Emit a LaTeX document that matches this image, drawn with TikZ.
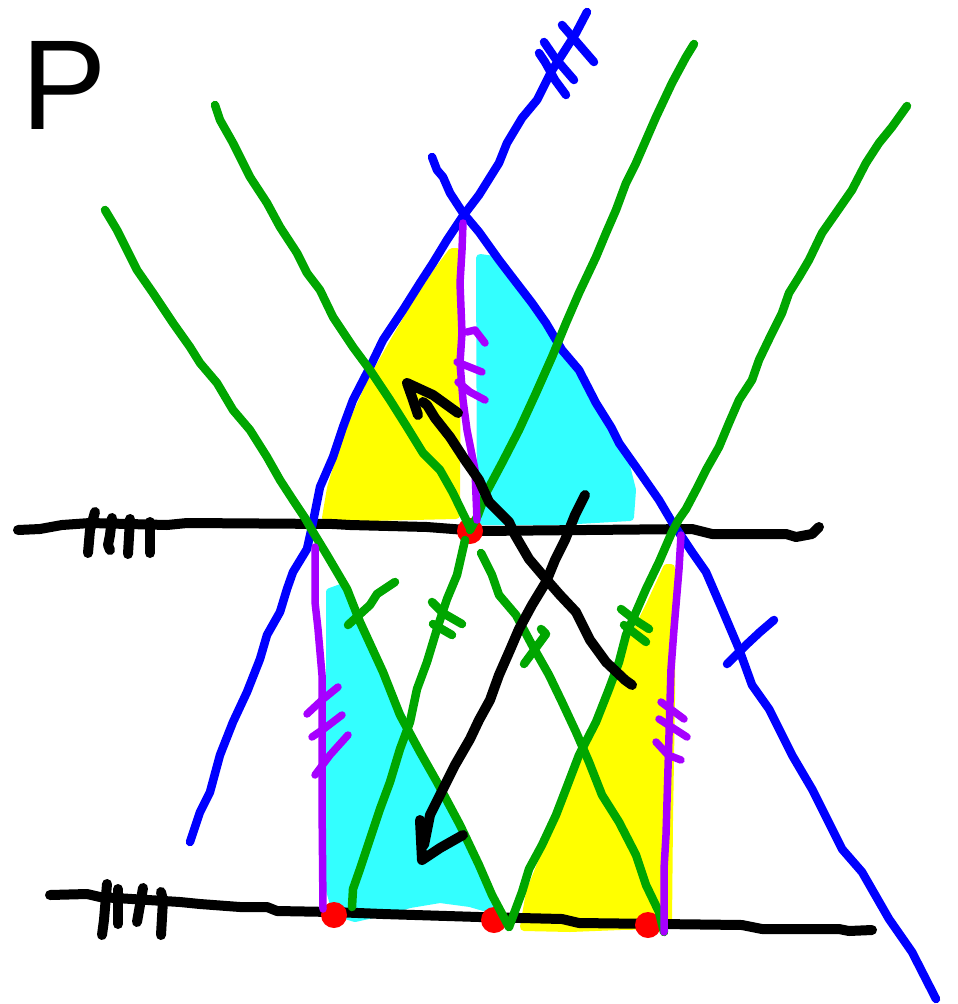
\documentclass[tikz,border=0pt]{standalone}
\usepackage{fontspec}
\setmainfont{Liberation Sans}
\definecolor{skgreen}{HTML}{00A600}
\definecolor{skblue}{HTML}{0000FF}
\definecolor{skpurple}{HTML}{A600FF}
\definecolor{skcyan}{HTML}{33FFFF}
\definecolor{skyellow}{HTML}{FFFF00}
\definecolor{skred}{HTML}{FF0000}
\tikzset{
  inkpen/.style={line cap=round,line join=round},
  blackpen/.style={inkpen,draw=black,line width=10pt},
  bluepen/.style={inkpen,draw=skblue,line width=8.5pt},
  greenpen/.style={inkpen,draw=skgreen,line width=8.5pt},
  purplepen/.style={inkpen,draw=skpurple,line width=7.5pt},
  yellowfill/.style={fill=skyellow,draw=skyellow,line width=8pt,line join=round},
  cyanfill/.style={fill=skcyan,draw=skcyan,line width=8pt,line join=round},
  reddot/.style={fill=skred,circle,minimum size=26pt,inner sep=0pt},
}
\begin{document}
\begin{tikzpicture}[x=1pt,y=-1pt]
\useasboundingbox (0,0) rectangle (958,1004);
% ---------- fills ----------
\fill[yellowfill] (452,252) -- (457,252) -- (456,515) -- (326,518) -- (331,488) -- (341,455)
  -- (354,420) -- (372,380) -- (396,338) -- (420,297) -- (440,268) -- cycle;
\fill[cyanfill] (480,258) -- (494,260) -- (514,284) -- (542,322) -- (572,366) -- (600,414)
  -- (624,458) -- (632,490) -- (630,517) -- (560,521) -- (481,521) -- cycle;
\fill[cyanfill] (330,592) -- (341,588) -- (352,605) -- (366,642) -- (386,686) -- (406,726)
  -- (426,766) -- (446,806) -- (466,846) -- (485,882) -- (494,910) -- (470,903) -- (440,899)
  -- (410,904) -- (382,912) -- (355,918) -- (336,912) -- (330,890) -- cycle;
\fill[yellowfill] (667,568) -- (671,568) -- (671,700) -- (669,820) -- (668,925) -- (620,926)
  -- (570,928) -- (524,927) -- (530,892) -- (546,852) -- (566,805) -- (588,750) -- (610,695)
  -- (630,645) -- (650,605) -- cycle;
% ---------- black base lines ----------
\draw[blackpen] (18,530) -- (40,529) -- (62,525) -- (90,523) -- (167,525) -- (187,523)
  -- (333,524) -- (350,525) -- (427,527) -- (479,531) -- (692,529) -- (712,534) -- (786,534)
  -- (796,537) -- (812,534) -- (819,527);
\draw[blackpen] (95,512) -- (90,530) -- (88,553);
\draw[blackpen] (112,518) -- (110,535) -- (108,545) -- (110,550);
\draw[blackpen] (130,519) -- (128,554);
\draw[blackpen] (150,522) -- (150,553);
\draw[blackpen] (50,895) -- (87,894) -- (100,897) -- (180,902) -- (200,904) -- (240,907)
  -- (267,907) -- (277,911) -- (333,912) -- (383,914) -- (479,917) -- (562,919) -- (579,923)
  -- (742,925) -- (762,929) -- (839,929) -- (849,931) -- (872,930);
\draw[blackpen] (107,884) -- (104,920) -- (102,935);
\draw[blackpen] (118,889) -- (118,924);
\draw[blackpen] (143,888) -- (137,922);
\draw[blackpen] (161,892) -- (163,900) -- (161,935);
% ---------- red points ----------
\node[reddot] (rtop) at (470,531) {};
\node[reddot] (rbl) at (334,915) {};
\node[reddot] (rbm) at (494,920) {};
\node[reddot] (rbr) at (648,925) {};
% ---------- blue lines ----------
\draw[bluepen] (587,12) -- (576,33) -- (551,72) -- (542,90) -- (537,100) -- (522,118) -- (507,143)
  -- (499,163) -- (479,195) -- (463,216) -- (447,240) -- (433,263) -- (420,283) -- (403,310)
  -- (383,340) -- (370,367) -- (353,400) -- (343,427) -- (333,457) -- (320,487) -- (313,522)
  -- (307,549) -- (293,572) -- (287,589) -- (280,612) -- (267,635) -- (260,659) -- (247,692)
  -- (233,722) -- (220,755) -- (210,792) -- (200,812) -- (190,842);
\draw[bluepen] (562,25) -- (575,40) -- (594,62);
\draw[bluepen] (544,42) -- (555,58) -- (574,80);
\draw[bluepen] (539,53) -- (545,62) -- (555,80) -- (566,95);
\draw[bluepen] (432,157) -- (437,170) -- (443,177) -- (450,193) -- (463,213) -- (479,232)
  -- (499,260) -- (512,277) -- (532,303) -- (546,323) -- (562,350) -- (579,370) -- (596,403)
  -- (611,427) -- (619,443) -- (636,467) -- (659,500) -- (672,522) -- (692,552) -- (706,572)
  -- (722,609) -- (739,649) -- (752,685) -- (769,709) -- (792,755) -- (812,789) -- (842,849)
  -- (862,872) -- (889,919) -- (912,952) -- (936,999);
\draw[bluepen] (727,664) -- (745,646) -- (760,632) -- (774,620);
% ---------- green lines ----------
\draw[greenpen] (105,210) -- (117,230) -- (127,250) -- (137,270) -- (153,293) -- (173,323)
  -- (190,347) -- (200,363) -- (217,383) -- (233,410) -- (250,430) -- (267,457) -- (280,480)
  -- (293,500) -- (305,518) -- (313,532) -- (327,555) -- (347,589) -- (360,622) -- (383,672)
  -- (400,715) -- (420,752) -- (437,782) -- (460,825) -- (479,865) -- (492,895) -- (509,927);
\draw[greenpen] (215,105) -- (220,120) -- (233,143) -- (250,177) -- (267,203) -- (280,227)
  -- (297,253) -- (307,273) -- (320,290) -- (333,317) -- (353,347) -- (370,370) -- (390,400)
  -- (407,427) -- (423,453) -- (440,470) -- (453,493) -- (470,528);
\draw[greenpen] (481,553) -- (492,575) -- (499,595) -- (516,615) -- (532,645) -- (549,675)
  -- (562,702) -- (576,732) -- (589,762) -- (602,795) -- (619,822) -- (636,855) -- (646,885)
  -- (659,912) -- (664,932);
\draw[greenpen] (694,44) -- (686,57) -- (679,70) -- (672,83) -- (664,100) -- (656,117) -- (646,140)
  -- (636,163) -- (626,183) -- (616,210) -- (606,233) -- (596,257) -- (579,293) -- (566,323)
  -- (552,357) -- (536,393) -- (519,430) -- (502,463) -- (486,493) -- (478,515) -- (470,530);
\draw[greenpen] (465,540) -- (457,575) -- (447,599) -- (437,629) -- (427,662) -- (417,689)
  -- (410,722) -- (400,749) -- (390,782) -- (380,809) -- (370,839) -- (360,869) -- (353,889)
  -- (352,907);
\draw[greenpen] (907,106) -- (892,127) -- (879,143) -- (866,163) -- (852,190) -- (836,213)
  -- (822,233) -- (809,260) -- (799,277) -- (789,293) -- (782,313) -- (772,333) -- (759,360)
  -- (752,380) -- (739,400) -- (729,423) -- (719,447) -- (706,470) -- (696,490) -- (686,509)
  -- (679,519) -- (672,532) -- (659,562) -- (646,589) -- (636,612) -- (626,635) -- (619,662)
  -- (609,689) -- (596,722) -- (579,755) -- (566,789) -- (556,815) -- (542,845) -- (529,869)
  -- (522,892) -- (509,927);
% green tick marks
\draw[greenpen] (348,625) -- (370,605) -- (377,594) -- (395,582);
\draw[greenpen] (432,602) -- (443,613) -- (462,624);
\draw[greenpen] (433,624) -- (452,635);
\draw[greenpen] (524,664) -- (546,634) -- (541,629);
\draw[greenpen] (621,609) -- (635,620) -- (649,629);
\draw[greenpen] (624,625) -- (646,642);
% ---------- purple lines ----------
\draw[purplepen] (463,223) -- (462,250) -- (460,283) -- (462,333) -- (460,363) -- (463,400)
  -- (467,430) -- (475,470) -- (477,520);
\draw[purplepen] (467,332) -- (475,330) -- (485,343);
\draw[purplepen] (457,362) -- (482,372);
\draw[purplepen] (458,382) -- (470,392) -- (485,400);
\draw[purplepen] (315,547) -- (315,602) -- (318,629) -- (322,675) -- (322,735) -- (322,802)
  -- (323,909);
\draw[purplepen] (338,687) -- (322,700) -- (307,714);
\draw[purplepen] (342,715) -- (325,728) -- (312,737);
\draw[purplepen] (348,735) -- (330,755) -- (315,775);
\draw[purplepen] (681,535) -- (679,569) -- (674,629) -- (671,669) -- (669,735) -- (666,835)
  -- (664,869) -- (664,932);
\draw[purplepen] (661,702) -- (684,719);
\draw[purplepen] (659,719) -- (687,737);
\draw[purplepen] (656,742) -- (668,755) -- (681,760);
% ---------- black arrows ----------
\coordinate (a1s) at (632,685);
\coordinate (a1t) at (407,383);
\coordinate (a2s) at (585,495);
\coordinate (a2t) at (422,860);
\draw[blackpen] (a1s) -- (625,680) -- (606,662) -- (590,640) -- (576,612) -- (560,595)
  -- (546,579) -- (529,559) -- (515,535) -- (509,522) -- (489,502) -- (479,480) -- (465,460)
  -- (450,437) -- (435,418) -- (427,405) -- (423,402);
\draw[blackpen] (418,415) -- (413,400) -- (a1t) -- (433,395) -- (458,413);
\draw[blackpen] (a2s) -- (575,515) -- (565,540) -- (555,560) -- (546,582) -- (532,605)
  -- (519,629) -- (510,650) -- (499,675) -- (490,700) -- (479,720) -- (470,739) -- (455,765)
  -- (440,795) -- (430,815) -- (424,845);
\draw[blackpen] (420,820) -- (a2t) -- (440,848) -- (463,835);
% ---------- label ----------
\node[inner sep=0pt,font=\fontsize{128}{128}\selectfont] (lblP) at (64,85) {P};
\end{tikzpicture}
\end{document}
